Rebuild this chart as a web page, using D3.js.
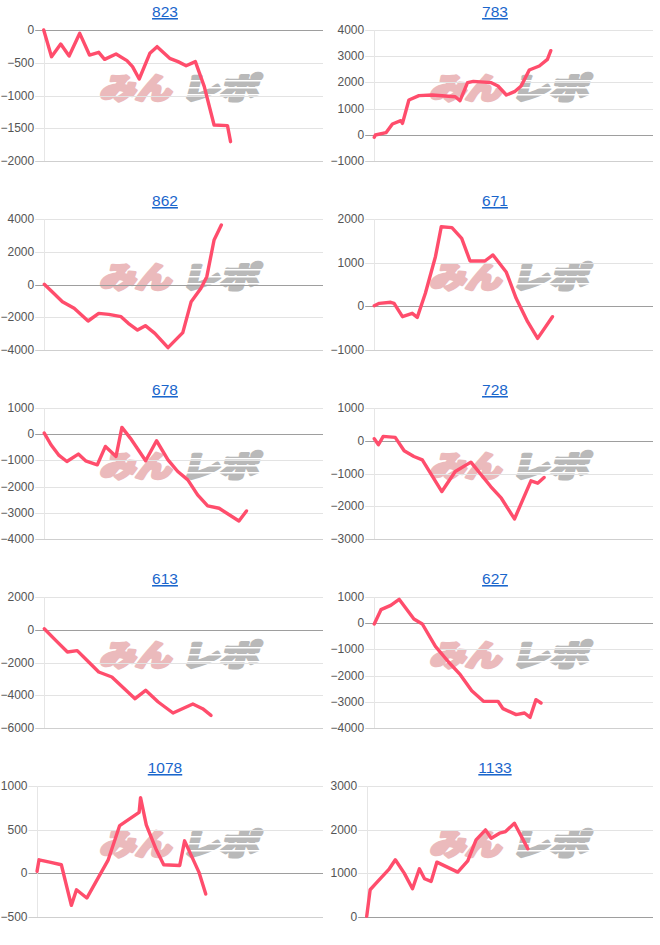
<!DOCTYPE html>
<html><head><meta charset="utf-8">
<script src="https://cdn.jsdelivr.net/npm/d3@7/dist/d3.min.js"></script>
<style>body{margin:0;background:#fff} svg{display:block}</style>
</head><body><svg id="c" width="660" height="945"></svg>
<script>
// Machine numbers (panel titles)
const titles = ["823","783","862","671","678","728","613","627","1078","1133"];
// Y tick labels per panel
const yTicks = [
  [0,-500,-1000,-1500,-2000],
  [4000,3000,2000,1000,0,-1000],
  [4000,2000,0,-2000,-4000],
  [2000,1000,0,-1000],
  [1000,0,-1000,-2000,-3000,-4000],
  [1000,0,-1000,-2000,-3000],
  [2000,0,-2000,-4000,-6000],
  [1000,0,-1000,-2000,-3000,-4000],
  [1000,500,0,-500],
  [3000,2000,1000,0]
];
// x = progress through the day (0-100), y = coin difference
const s823 = [[0,0],[2.8,-407],[6.1,-214],[9.1,-397],[12.9,-51],[16.4,-382],[19.7,-341],[21.8,-448],[25.9,-366],[29.8,-468],[31.8,-560],[34.2,-748],[38.0,-356],[40.6,-254],[45.1,-433],[48.1,-483],[51.0,-545],[54.3,-483],[57.5,-865],[61.0,-1450],[65.8,-1460],[66.9,-1705]];
const s783 = [[0.2,-97],[0.6,-8],[4.4,81],[6.7,412],[9.7,539],[10.3,437],[12.6,1328],[16.2,1494],[20.9,1519],[25.6,1481],[29.2,1455],[30.9,1303],[33.6,1990],[35.7,2041],[42.1,1990],[44.5,1863],[47.5,1519],[50.4,1646],[52.8,1863],[55.7,2473],[59.3,2626],[62.2,2880],[63.4,3211]];
const s862 = [[0.2,10],[3.2,-478],[6.7,-1048],[10.9,-1455],[15.9,-2229],[19.7,-1761],[23.3,-1822],[27.7,-1964],[30.3,-2371],[33.6,-2779],[36.4,-2514],[39.8,-2982],[44.5,-3857],[49.8,-2941],[52.8,-1048],[56.3,-234],[58.4,478],[61.0,2718],[63.6,3634]];
const s671 = [[0.2,15],[2.0,69],[6.1,92],[7.3,69],[10.3,-237],[13.8,-160],[15.6,-252],[18.5,298],[22.1,1137],[24.2,1824],[28.0,1802],[31.5,1557],[34.5,1038],[39.8,1038],[42.7,1176],[47.5,779],[51.0,183],[55.1,-351],[58.7,-733],[64.0,-237]];
const s678 = [[0.2,43],[2.6,-403],[5.5,-811],[8.3,-1041],[12.4,-760],[15.0,-1015],[19.2,-1168],[22.1,-466],[25.9,-849],[28.0,260],[31.0,-148],[33.3,-505],[36.5,-1015],[40.4,-250],[44.5,-977],[48.0,-1423],[51.6,-1742],[55.1,-2316],[58.7,-2737],[62.8,-2827],[69.9,-3311],[72.6,-2929]];
const s728 = [[0.2,61],[1.7,-122],[3.4,133],[7.7,102],[10.9,-306],[14.4,-480],[17.4,-582],[24.4,-1551],[29.2,-939],[34.8,-653],[41.9,-1398],[45.7,-1755],[50.4,-2388],[56.3,-1224],[58.7,-1296],[61.0,-1122]];
const s613 = [[0.2,63],[4.4,-667],[8.5,-1359],[12.0,-1277],[16.1,-1969],[19.7,-2580],[24.4,-2885],[28.6,-3557],[32.7,-4209],[36.5,-3700],[41.0,-4412],[46.3,-5084],[53.4,-4534],[56.9,-4819],[59.9,-5226]];
const s627 = [[0.2,-30],[2.6,517],[6.1,682],[9.1,911],[14.4,160],[17.4,-30],[22.1,-883],[26.8,-1480],[31.0,-1964],[35.1,-2575],[39.3,-2982],[44.5,-2982],[46.3,-3262],[51.0,-3491],[54.0,-3427],[56.0,-3593],[58.1,-2918],[59.9,-3046]];
const s1078 = [[0,22],[0.7,155],[4.4,128],[8.5,98],[12.0,-367],[13.8,-188],[17.4,-283],[24.9,155],[28.9,547],[35.7,699],[36.2,867],[38.2,555],[41.7,269],[44.3,98],[49.9,90],[51.6,372],[56.6,14],[59.0,-237]];
const s1133 = [[0,15],[1.2,624],[3.3,777],[7.9,1104],[10.0,1310],[13.1,1005],[16.0,647],[18.4,1104],[20.2,876],[22.5,815],[24.5,1256],[31.8,1028],[35.3,1287],[38.2,1766],[41.5,1995],[43.5,1805],[46.4,1919],[48.5,1957],[51.6,2147],[56.3,1561]];
const seriesList = [s823,s783,s862,s671,s678,s728,s613,s627,s1078,s1133];
const xDomain = [0,100];

const svg = d3.select("#c");
const FONT = "'Liberation Sans', Arial, sans-serif";
const PW = 330, PH = 189;

titles.forEach((t,i)=>{
  const col = i%2, row = Math.floor(i/2);
  const g = svg.append("g").attr("transform",`translate(${col*PW},${row*PH})`);
  const ticks = yTicks[i];
  const top = 30, bottom = 161, right = 323;
  const y = d3.scaleLinear().domain([d3.min(ticks), d3.max(ticks)]).range([bottom, top]);

  // title
  g.append("text").attr("x",165).attr("y",17).attr("text-anchor","middle")
    .attr("font-family",FONT).attr("font-size",15.5).attr("fill","#1a66cc")
    .style("text-decoration","underline").text(t);

  // watermark
  const wm = g.append("g").attr("transform","translate(180,86)");
  wm.append("text").attr("transform","translate(-6,0) skewX(-14) scale(1.12,0.92)")
    .attr("text-anchor","end").attr("dominant-baseline","central")
    .attr("font-family","'Noto Sans CJK JP'").attr("font-weight",900).attr("font-size",32)
    .attr("fill","#ebbabc").attr("stroke","#ebbabc").attr("stroke-width",3.2).attr("stroke-linejoin","round")
    .text("みん");
  wm.append("text").attr("transform","translate(4,0) skewX(-14) scale(1.2,0.92)")
    .attr("text-anchor","start").attr("dominant-baseline","central")
    .attr("font-family","'Noto Sans CJK JP'").attr("font-weight",900).attr("font-size",32)
    .attr("fill","#b9b9b9").attr("stroke","#b9b9b9").attr("stroke-width",3.2).attr("stroke-linejoin","round")
    .text("レポ");
  [-6,1,8].forEach(dy=>{
    wm.append("rect").attr("x",2).attr("y",dy).attr("width",82).attr("height",1.5).attr("fill","#fff");
  });

  // axis (labels + gridlines)
  const ax = g.append("g").attr("class","ax");
  const axis = d3.axisLeft(y).tickValues(ticks).tickFormat(d3.format("d")).tickPadding(1).tickSizeOuter(0);
  ax.call(axis.tickSizeInner(0));
  ax.selectAll("text").attr("font-family",FONT).attr("font-size",12).attr("fill","#555");
  let maxW = 0;
  ax.selectAll("text").each(function(){ maxW = Math.max(maxW, this.getComputedTextLength()); });
  const gridStart = maxW + 1.5;
  const left = gridStart + 8.5;
  ax.attr("transform",`translate(${gridStart},0)`).call(axis.tickSizeInner(-(right-gridStart)));
  ax.select(".domain").remove();
  ax.selectAll("text").attr("font-family",FONT).attr("font-size",12).attr("fill","#555");
  ax.selectAll(".tick line").attr("stroke",d=> d===0 ? "#9e9e9e" : (d===d3.min(ticks)?"#cfcfcf":"#e3e3e3")).attr("stroke-width",1);
  ax.selectAll(".tick").attr("transform",d=>`translate(0,${Math.round(y(d))+0.5})`);

  // left vertical line
  g.append("line").attr("x1",Math.round(left)+0.5).attr("x2",Math.round(left)+0.5)
    .attr("y1",top).attr("y2",bottom).attr("stroke","#e6e6e6");

  const x = d3.scaleLinear().domain(xDomain).range([left, right]);
  const line = d3.line().x(d=>x(d[0])).y(d=>y(d[1]));
  g.append("path").datum(seriesList[i]).attr("d",line)
    .attr("fill","none").attr("stroke","#ff4d6c").attr("stroke-width",3.4)
    .attr("stroke-linejoin","round").attr("stroke-linecap","round");
});
</script></body></html>
